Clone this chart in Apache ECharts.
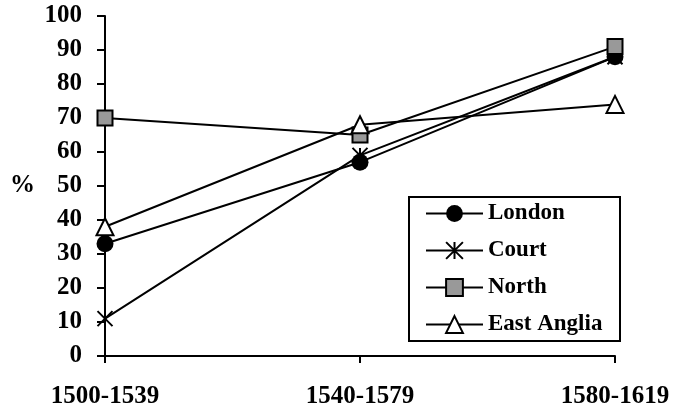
<!DOCTYPE html>
<html>
<head>
<meta charset="utf-8">
<script src="https://cdn.jsdelivr.net/npm/echarts@6/dist/echarts.min.js"></script>
<style>html,body{margin:0;padding:0;background:#fff}#c{width:675px;height:412px}</style>
</head>
<body>
<div id="c"></div>
<script>
var categories = ['1500-1539', '1540-1579', '1580-1619'];
var london = [33, 57, 88];
var court = [11, 59, 88];
var north = [70, 65, 91];
var eastAnglia = [38, 68, 74];
var seriesNames = ['London', 'Court', 'North', 'East Anglia'];

var FONT = '"Liberation Serif", "Times New Roman", serif';
var asterisk = 'path://M0,0L10,10M10,0L0,10M5,0L5,10';

function mk(name, data, symbol, size, fill) {
  return {
    name: name, type: 'line', data: data,
    symbol: symbol, symbolSize: size, showSymbol: true,
    lineStyle: { color: '#000', width: 2 },
    itemStyle: { color: fill, borderColor: '#000', borderWidth: (symbol === 'circle' ? 0 : 2) },
    emphasis: { disabled: true },
    animation: false
  };
}

var chart = echarts.init(document.getElementById('c'));
chart.setOption({
  backgroundColor: '#fff',
  grid: { left: 105, right: 60, top: 16, bottom: 56, containLabel: false, outerBoundsMode: 'none' },
  xAxis: {
    type: 'category', data: categories, boundaryGap: false,
    axisLine: { lineStyle: { color: '#000', width: 2 } },
    axisTick: { show: true, length: 7, alignWithLabel: true, lineStyle: { color: '#000', width: 2 } },
    axisLabel: { color: '#000', fontFamily: FONT, fontWeight: 'bold', fontSize: 25, margin: 28 },
    splitLine: { show: false }
  },
  yAxis: {
    type: 'value', min: 0, max: 100, interval: 10,
    name: '%', nameLocation: 'middle', nameRotate: 0, nameGap: 70,
    nameTextStyle: { color: '#000', fontFamily: FONT, fontWeight: 'bold', fontSize: 25 },
    axisLine: { show: true, lineStyle: { color: '#000', width: 2 } },
    axisTick: { show: true, length: 8, lineStyle: { color: '#000', width: 2 } },
    axisLabel: { color: '#000', fontFamily: FONT, fontWeight: 'bold', fontSize: 25, margin: 23 },
    splitLine: { show: false }
  },
  legend: {
    orient: 'vertical', left: 409, top: 197,
    data: seriesNames,
    backgroundColor: '#fff',
    borderColor: '#000', borderWidth: 2, borderRadius: 0,
    padding: [5, 14, 5, 16],
    itemWidth: 57, itemHeight: 21, itemGap: 14,
    textStyle: { color: '#000', fontFamily: FONT, fontWeight: 'bold', fontSize: 23, lineHeight: 23, width: 118 },
    selectedMode: false
  },
  series: [
    mk('London', london, 'circle', 17, '#000'),
    mk('Court', court, asterisk, 15, '#000'),
    mk('North', north, 'rect', 15, '#999'),
    mk('East Anglia', eastAnglia, 'triangle', 17, '#fff')
  ]
});
</script>
</body>
</html>
